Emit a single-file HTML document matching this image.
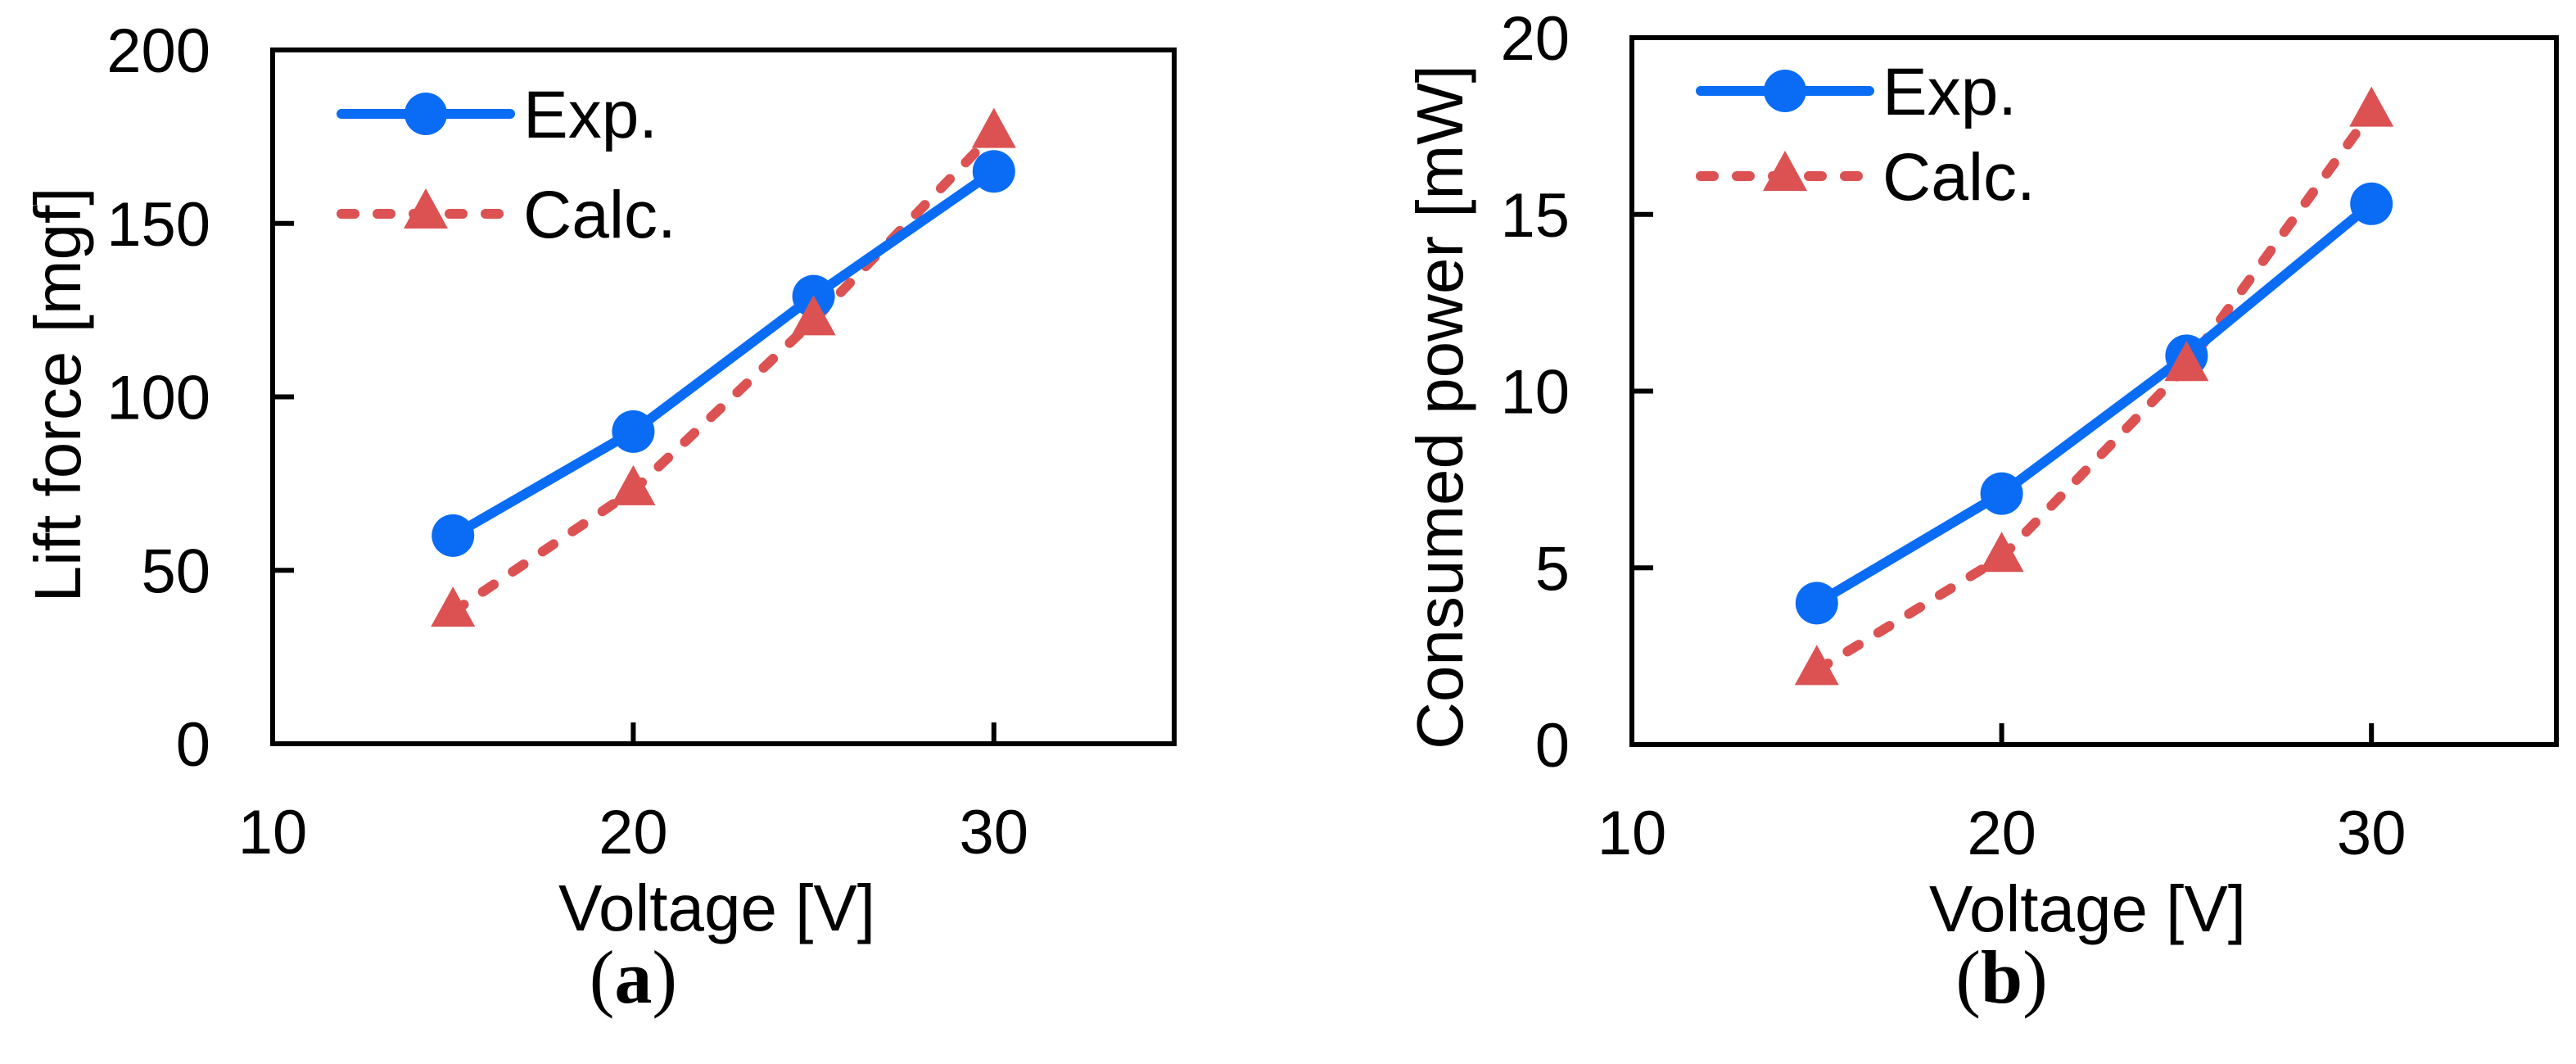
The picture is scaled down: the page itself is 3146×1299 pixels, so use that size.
<!DOCTYPE html>
<html><head><meta charset="utf-8"><style>
html,body{margin:0;padding:0;background:#fff;}
svg{display:block;font-family:"Liberation Sans",Arial,sans-serif;}
</style></head><body>
<svg id="chart" width="3146" height="1299" viewBox="0 0 3146 1299" xmlns="http://www.w3.org/2000/svg"></svg>
<script>
const voltages = [15, 20, 25, 30];
const liftExp = [60, 90, 129, 165];
const liftCalc = [38, 73, 122, 176];
const powerExp = [4, 7.1, 11, 15.3];
const powerCalc = [2.1, 5.3, 10.7, 17.9];
const xTicks = [10, 20, 30];
const liftTicks = [0, 50, 100, 150, 200];
const powerTicks = [0, 5, 10, 15, 20];

const NS = 'http://www.w3.org/2000/svg';
const svg = document.getElementById('chart');
function mk(tag, attrs, parent, text) {
  const e = document.createElementNS(NS, tag);
  for (const k in attrs) e.setAttribute(k, attrs[k]);
  if (text !== undefined) e.textContent = text;
  (parent || svg).appendChild(e);
  return e;
}
const BLUE = '#0a6cf5', RED = '#dc5252';
const DASH = '16 28';
function tri(x, y) {
  return x + ',' + (y - 31) + ' ' + (x - 27) + ',' + (y + 18) + ' ' + (x + 27) + ',' + (y + 18);
}

function panel(cfg) {
  const g = mk('g', {});
  
  
  const L = cfg.box[0], T = cfg.box[1], R = cfg.box[2], B = cfg.box[3];
  const xs = v => L + (v - 10) / 25 * (R - L);
  const ys = v => B - (v - cfg.yMin) / (cfg.yMax - cfg.yMin) * (B - T);
  cfg.yTicks.forEach(t => {
    const y = ys(t);
    if (t !== cfg.yMin && t !== cfg.yMax) {
      const tk = mk('line', {x1: L, x2: L + 26, y1: y, y2: y, stroke: '#000', 'stroke-width': 6}, g);
      
      
    }
    const lb = mk('text', {x: L - 76, y: y + 27, 'text-anchor': 'end', 'font-size': 76}, g, String(t));
    
    
  });
  xTicks.forEach(t => {
    const x = xs(t);
    if (t !== 10) {
      const tk = mk('line', {x1: x, x2: x, y1: B, y2: B - 26, stroke: '#000', 'stroke-width': 6}, g);
      
      
    }
    const lb = mk('text', {x: x, y: B + 134, 'text-anchor': 'middle', 'font-size': 76}, g, String(t));
    
    
  });
  const box = mk('rect', {x: L, y: T, width: R - L, height: B - T, fill: 'none', stroke: '#000', 'stroke-width': 6}, g);
  
  
  const calcPts = voltages.map((v, i) => xs(v) + ',' + ys(cfg.calc[i])).join(' ');
  const expPts = voltages.map((v, i) => xs(v) + ',' + ys(cfg.exp[i])).join(' ');
  const cl = mk('polyline', {points: calcPts, fill: 'none', stroke: RED, 'stroke-width': 12, 'stroke-dasharray': DASH, 'stroke-linecap': 'round'}, g);
  
  
  const el = mk('polyline', {points: expPts, fill: 'none', stroke: BLUE, 'stroke-width': 12}, g);
  
  
  voltages.forEach((v, i) => {
    const c = mk('circle', {cx: xs(v), cy: ys(cfg.exp[i]), r: 26, fill: BLUE}, g);
    
    
  });
  voltages.forEach((v, i) => {
    const p = mk('polygon', {points: tri(xs(v), ys(cfg.calc[i])), fill: RED}, g);
    
    
  });
  const lx1 = L + 84, lx2 = L + 290, lm = (lx1 + lx2) / 2;
  const ly1 = T + cfg.legY[0], ly2 = T + cfg.legY[1];
  const le = mk('g', {}, g);
  
  
  mk('line', {x1: lx1, x2: lx2, y1: ly1, y2: ly1, stroke: BLUE, 'stroke-width': 12, 'stroke-linecap': 'round'}, le);
  mk('circle', {cx: lm, cy: ly1, r: 26, fill: BLUE}, le);
  const t1 = mk('text', {x: lx2 + 16, y: ly1 + 29, 'font-size': 82}, le, 'Exp.');
  
  
  mk('line', {x1: lx1, x2: lx2, y1: ly2, y2: ly2, stroke: RED, 'stroke-width': 12, 'stroke-dasharray': DASH, 'stroke-linecap': 'round'}, le);
  mk('polygon', {points: tri(lm, ly2), fill: RED}, le);
  const t2 = mk('text', {x: lx2 + 16, y: ly2 + 29, 'font-size': 82}, le, 'Calc.');
  
  
  const xt = mk('text', {x: (L + R) / 2 - 8, y: B + 228, 'text-anchor': 'middle', 'font-size': 80}, g, 'Voltage [V]');
  
  
  const yt = mk('text', {x: 0, y: 0, 'text-anchor': 'middle', 'font-size': 80, transform: 'translate(' + cfg.yTitle[0] + ',' + cfg.yTitle[1] + ') rotate(-90)'}, g, cfg.yLabel);
  
  
  const cap = mk('text', {x: xs(20), y: 1224, 'text-anchor': 'middle', 'font-size': 92, 'font-family': '"Liberation Serif", serif'}, g);
  
  
  mk('tspan', {}, cap, '(');
  mk('tspan', {'font-weight': 'bold'}, cap, cfg.cap);
  mk('tspan', {}, cap, ')');
}

panel({name: 'lift-force-chart', box: [333, 61, 1434, 908], yMin: 0, yMax: 200, yTicks: liftTicks,
  exp: liftExp, calc: liftCalc, legY: [78, 200], yTitle: [98, 482], yLabel: 'Lift force [mgf]', cap: 'a'});
panel({name: 'power-chart', box: [1993, 46, 3122, 909], yMin: 0, yMax: 20, yTicks: powerTicks,
  exp: powerExp, calc: powerCalc, legY: [65, 169], yTitle: [1786, 497], yLabel: 'Consumed power [mW]', cap: 'b'});
</script>
</body></html>
